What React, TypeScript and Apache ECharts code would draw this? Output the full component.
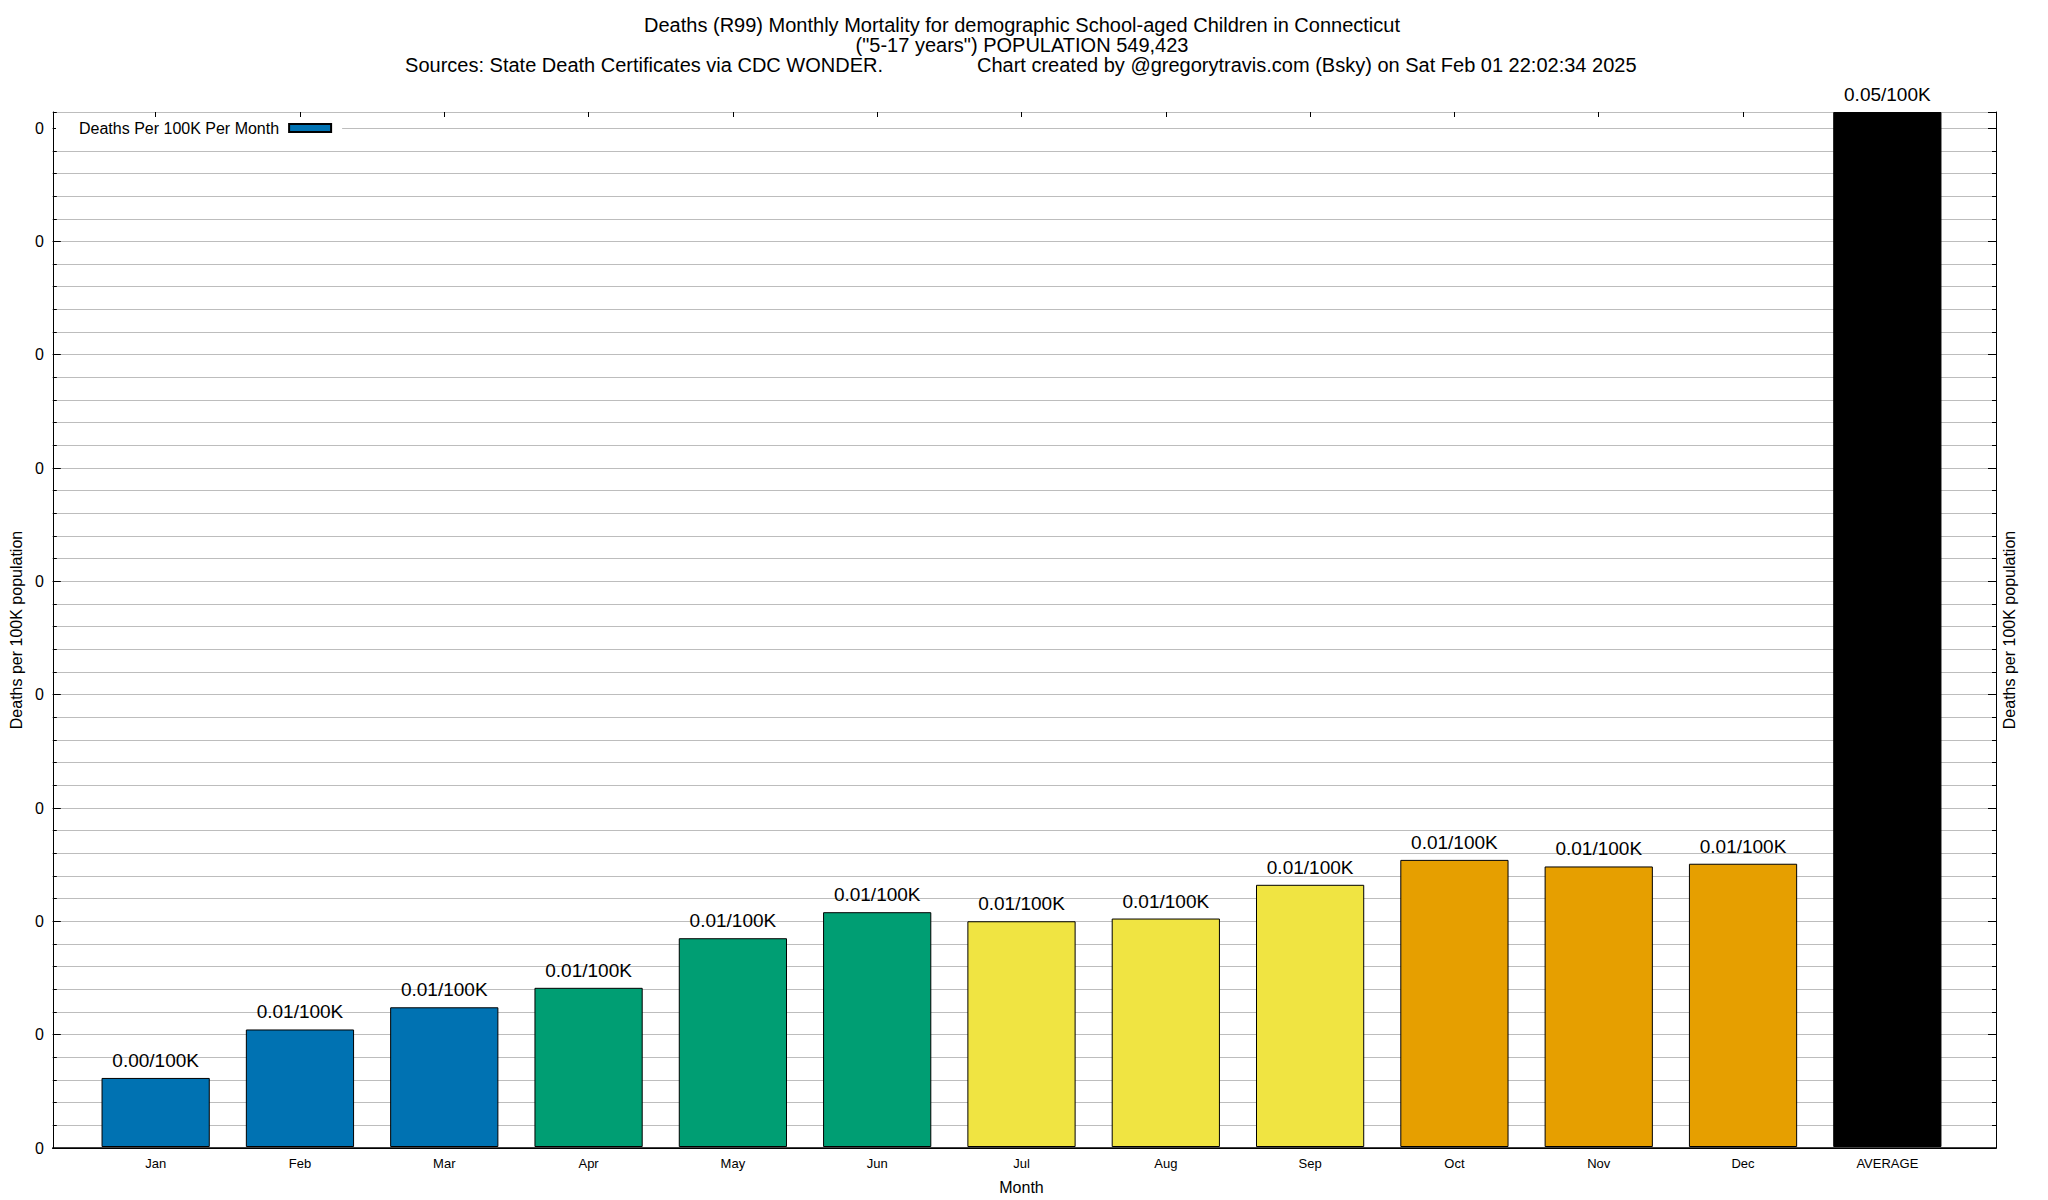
import React, { useEffect, useRef } from "react";
import * as echarts from "echarts";

const categories = ["Jan", "Feb", "Mar", "Apr", "May", "Jun", "Jul", "Aug", "Sep", "Oct", "Nov", "Dec", "AVERAGE"];
const deathsPer100K = [0.00305, 0.00519, 0.00617, 0.00703, 0.00922, 0.01037, 0.00997, 0.01009, 0.01158, 0.01268, 0.01239, 0.01251, 0.04571];
const barColors = ["#0072b2", "#0072b2", "#0072b2", "#009e73", "#009e73", "#009e73", "#f0e442", "#f0e442", "#f0e442", "#e69f00", "#e69f00", "#e69f00", "#000000"];
const seriesName = "Deaths Per 100K Per Month";
const titleLine1 = "Deaths (R99) Monthly Mortality for demographic School-aged Children in Connecticut";
const titleLine2 = "(\"5-17 years\") POPULATION 549,423";
const titleLine3a = "Sources: State Death Certificates via CDC WONDER.";
const titleLine3b = "Chart created by @gregorytravis.com (Bsky) on Sat Feb 01 22:02:34 2025";
const yAxisName = "Deaths per 100K population";
const xAxisName = "Month";
const majorStep = 0.005;
const minorStep = 0.001;

const FONT = "'Liberation Sans', Arial, Helvetica, sans-serif";
const GRID_COLOR = "#bdbdbd";

export default function App() {
  const ref = useRef<HTMLDivElement>(null);
  useEffect(() => {
    if (!ref.current) return;
    const chart = echarts.init(ref.current, undefined, { renderer: "svg" });
    const yMax = Math.max(...deathsPer100K);
    const titleStyle = (text: string, align: string) => ({
      text,
      fontSize: 20,
      fontFamily: FONT,
      fill: "#000",
      align,
      verticalAlign: "middle",
    });
    const option: any = {
      animation: false,
      backgroundColor: "#fff",
      textStyle: { fontFamily: FONT },
      graphic: [
        { type: "text", x: 1022, y: 25, style: titleStyle(titleLine1, "center") },
        { type: "text", x: 1022, y: 45, style: titleStyle(titleLine2, "center") },
        { type: "text", x: 883, y: 65, style: titleStyle(titleLine3a, "right") },
        { type: "text", x: 977, y: 65, style: titleStyle(titleLine3b, "left") },
      ],
      legend: {
        left: 56,
        top: 117,
        padding: [3, 10, 3, 23],
        backgroundColor: "#fff",
        align: "right",
        itemWidth: 42,
        itemHeight: 8,
        textStyle: { fontSize: 16, fontFamily: FONT, color: "#000", padding: [0, 5, 0, 0] },
        data: [{ name: seriesName, icon: "rect" }],
      },
      grid: [
        { left: 46, right: 52, top: 112, bottom: 52 },
        { left: 83.5, right: 88.5, top: 112, bottom: 52 },
      ],
      xAxis: [
        {
          gridIndex: 0, type: "value", position: "bottom", min: 0, max: 1,
          axisLine: { show: true, lineStyle: { color: "#000", width: 1.5 } },
          axisTick: { show: false }, axisLabel: { show: false }, splitLine: { show: false },
        },
        {
          gridIndex: 0, type: "value", position: "top", min: 0, max: 1,
          axisLine: { show: true, lineStyle: { color: "#000", width: 1 } },
          axisTick: { show: false }, axisLabel: { show: false }, splitLine: { show: false },
        },
        {
          gridIndex: 1, type: "category", position: "bottom", data: categories,
          axisLine: { show: false }, axisTick: { show: false },
          axisLabel: { fontSize: 13, margin: 10, color: "#000", fontFamily: FONT },
          name: xAxisName, nameLocation: "middle", nameGap: 32,
          nameTextStyle: { fontSize: 16, color: "#000", fontFamily: FONT },
          splitLine: { show: false },
        },
        {
          gridIndex: 1, type: "category", position: "top", data: categories,
          axisLine: { show: false },
          axisTick: { show: true, inside: true, alignWithLabel: true, length: 5, lineStyle: { color: "#000" } },
          axisLabel: { show: false }, splitLine: { show: false },
        },
      ],
      yAxis: [
        {
          gridIndex: 0, type: "value", position: "left", min: 0, max: yMax, interval: minorStep,
          axisLine: { show: true, lineStyle: { color: "#000", width: 1 } },
          axisTick: { show: true, inside: true, length: 4, lineStyle: { color: "#000" } },
          axisLabel: { show: false },
          splitLine: { show: true, lineStyle: { color: GRID_COLOR, width: 1 } },
        },
        {
          gridIndex: 0, type: "value", position: "left", min: 0, max: yMax, interval: majorStep,
          axisLine: { show: false },
          axisTick: { show: true, inside: true, length: 8, lineStyle: { color: "#000" } },
          axisLabel: { show: true, formatter: () => "0", fontSize: 16, margin: 9, color: "#000", fontFamily: FONT, showMaxLabel: false },
          splitLine: { show: false },
          name: yAxisName, nameLocation: "middle", nameRotate: 90, nameGap: 22,
          nameTextStyle: { fontSize: 16, color: "#000", fontFamily: FONT },
        },
        {
          gridIndex: 0, type: "value", position: "right", min: 0, max: yMax, interval: minorStep,
          axisLine: { show: true, lineStyle: { color: "#000", width: 1 } },
          axisTick: { show: true, inside: true, length: 4, lineStyle: { color: "#000" } },
          axisLabel: { show: false }, splitLine: { show: false },
        },
        {
          gridIndex: 0, type: "value", position: "right", min: 0, max: yMax, interval: majorStep,
          axisLine: { show: false },
          axisTick: { show: true, inside: true, length: 8, lineStyle: { color: "#000" } },
          axisLabel: { show: false }, splitLine: { show: false },
          name: yAxisName, nameLocation: "middle", nameRotate: 90, nameGap: 5,
          nameTextStyle: { fontSize: 16, color: "#000", fontFamily: FONT },
        },
        { gridIndex: 1, type: "value", min: 0, max: yMax, show: false },
      ],
      series: [
        {
          name: seriesName,
          type: "bar",
          xAxisIndex: 2,
          yAxisIndex: 4,
          barCategoryGap: "25%",
          itemStyle: { color: barColors[0], borderColor: "#000", borderWidth: 1 },
          data: deathsPer100K.map((v, i) => ({ value: v, itemStyle: { color: barColors[i] } })),
          label: {
            show: true,
            position: "top",
            distance: 8,
            formatter: (p: any) => `${Number(p.value).toFixed(2)}/100K`,
            fontSize: 19,
            color: "#000",
            fontFamily: FONT,
          },
        },
      ],
    };
    chart.setOption(option);
    return () => chart.dispose();
  }, []);
  return <div ref={ref} style={{ position: "absolute", left: 0, top: 0, width: 2048, height: 1200 }} />;
}
